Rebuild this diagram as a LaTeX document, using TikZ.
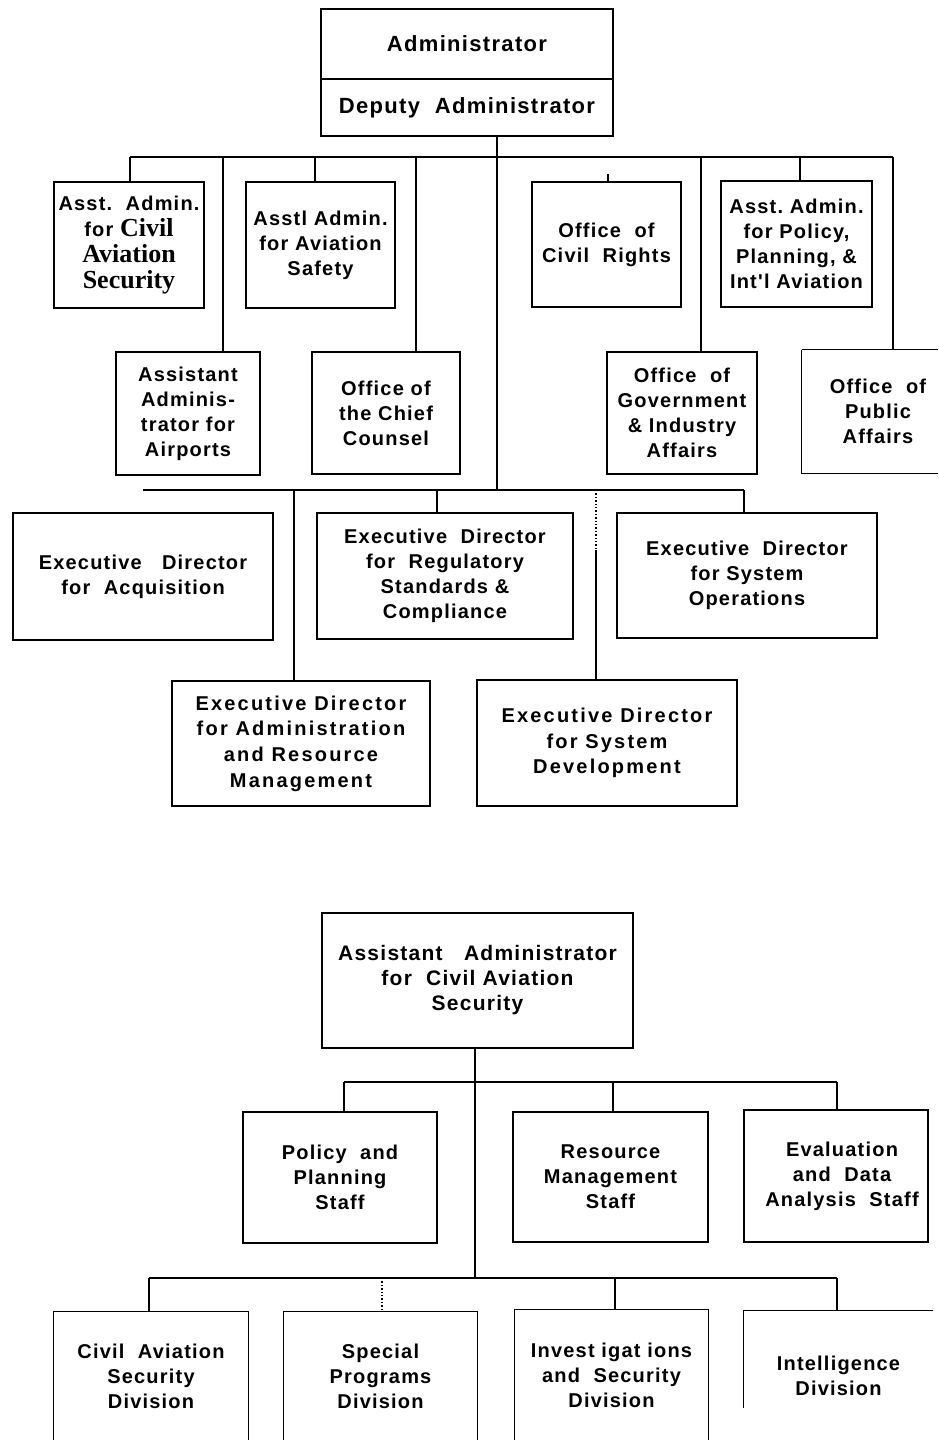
\documentclass[tikz,border=0pt]{standalone}
\usepackage{fontspec}
\setmainfont{Liberation Sans}
\newfontfamily\orgf[LetterSpace=6]{Liberation Sans}
\newfontfamily\orgw[LetterSpace=11]{Liberation Sans}
\newfontfamily\orgs{Liberation Serif}
\tikzset{
  orgline/.style={line width=0.7pt, black},
  box/.style={draw, line width=0.7pt, inner sep=0pt, align=center,
    font=\orgf\bfseries\fontsize{10}{12.5}\selectfont},
  openbox/.style={inner sep=0pt, align=center,
    font=\orgf\bfseries\fontsize{10}{12.5}\selectfont},
  widefont/.style={font=\orgw\bfseries\fontsize{10}{12.8}\selectfont},
  dotline/.style={line width=0.7pt, densely dotted}
}
\begin{document}
\begin{tikzpicture}[x=0.5pt, y=-0.5pt]
\fill[white] (0,0) rectangle (938,1440);
\useasboundingbox (0,0) rectangle (938,1440);

% ---------------- upper chart ----------------
\node[box, minimum width=146pt, minimum height=35pt,
  font=\orgf\bfseries\fontsize{11}{13}\selectfont] (adm) at (467,44) {Administrator};
\node[box, minimum width=146pt, minimum height=28.5pt,
  font=\orgf\bfseries\fontsize{11}{13}\selectfont] (dep) at (467,107.5) {Deputy\ \ Administrator};

\node[box, minimum width=75pt, minimum height=63pt] (cas) at (129,245)
  {Asst.\ \ Admin.\\[0.5pt]
   for {\orgs\fontsize{13}{13}\selectfont Civil}\\[0.5pt]
   {\orgs\fontsize{13}{13}\selectfont Aviation}\\[0.5pt]
   {\orgs\fontsize{13}{13}\selectfont Security}};
\node[box, minimum width=74.5pt, minimum height=63pt] (saf) at (320.5,245)
  {Asstl Admin.\\for Aviation\\Safety};
\node[box, minimum width=72pt, minimum height=61.5pt] (air) at (188,413.5)
  {Assistant\\Adminis-\\trator for\\Airports};
\node[box, minimum width=74pt, minimum height=61pt] (cc) at (386,413)
  {Office of\\the Chief\\Counsel};
\node[box, minimum width=74.5pt, minimum height=62.5pt] (cr) at (606.5,244.5)
  {Office\ \ of\\Civil\ \ Rights};
\node[box, minimum width=75.5pt, minimum height=63pt] (pol) at (796.5,244)
  {Asst.\ Admin.\\for Policy,\\Planning, \&\\Int'l Aviation};
\node[box, minimum width=75pt, minimum height=61pt] (gov) at (682,413)
  {Office\ \ of\\Government\\\& Industry\\Affairs};
\node[openbox, minimum width=76pt, minimum height=61.5pt] (pub) at (878,411.5)
  {Office\ \ of\\Public\\Affairs};
\draw[orgline] (pub.north west) -- ++(136,0);
\draw[orgline] (pub.north west) -- (pub.south west) -- ++(136,0);

\node[box, minimum width=130pt, minimum height=63.5pt] (acq) at (143,576.5)
  {Executive\ \ \ Director\\for\ \ Acquisition};
\node[box, minimum width=128pt, minimum height=63pt] (reg) at (445,576)
  {Executive\ \ Director\\for\ \ Regulatory\\Standards \&\\Compliance};
\node[box, minimum width=130pt, minimum height=62.5pt] (sop) at (747,575.5)
  {Executive\ \ Director\\for System\\Operations};
\node[box, widefont, minimum width=129pt, minimum height=62.5pt] (arm) at (301,743.5)
  {Executive Director\\for Administration\\and Resource\\Management};
\node[box, widefont, minimum width=130pt, minimum height=63pt] (sdv) at (607,743)
  {Executive Director\\for System\\Development};

% bus coordinates, upper chart
\coordinate (b1a) at (130,157);
\coordinate (b1b) at (223,157);
\coordinate (b1c) at (315,157);
\coordinate (b1d) at (416,157);
\coordinate (b1e) at (608,174);
\coordinate (b1f) at (701,157);
\coordinate (b1g) at (800,157);
\coordinate (b1h) at (893,157);
\coordinate (t1) at (497,490);
\coordinate (b2a) at (143,490);
\coordinate (b2b) at (294,490);
\coordinate (b2c) at (437,490);
\coordinate (b2d) at (596,490);
\coordinate (b2m) at (596,550);
\coordinate (b2e) at (744,490);

\draw[orgline] (dep.south -| t1) -- (t1);
\draw[orgline] (b1a) -- (b1h);
\draw[orgline] (b1a) -- (b1a |- cas.north);
\draw[orgline] (b1b) -- (b1b |- air.north);
\draw[orgline] (b1c) -- (b1c |- saf.north);
\draw[orgline] (b1d) -- (b1d |- cc.north);
\draw[orgline] (b1e) -- (b1e |- cr.north);
\draw[orgline] (b1f) -- (b1f |- gov.north);
\draw[orgline] (b1g) -- (b1g |- pol.north);
\draw[orgline] (b1h) -- (b1h |- pub.north);

\draw[orgline] (b2a) -- (b2e);
\draw[orgline] (b2b) -- (b2b |- arm.north);
\draw[orgline] (b2c) -- (b2c |- reg.north);
\draw[dotline] (b2d) -- (b2m);
\draw[orgline] (b2m) -- (b2m |- sdv.north);
\draw[orgline] (b2e) -- (b2e |- sop.north);

% ---------------- lower chart ----------------
\node[box, minimum width=155.5pt, minimum height=67.5pt,
  font=\orgf\bfseries\fontsize{10.5}{12.5}\selectfont] (aacs) at (477.5,980.5)
  {Assistant\ \ \ Administrator\\for\ \ Civil Aviation\\Security};
\node[box, minimum width=97pt, minimum height=65.5pt] (pps) at (340,1177.5)
  {Policy\ \ and\\Planning\\Staff};
\node[box, minimum width=97.5pt, minimum height=65pt] (rms) at (610.5,1177)
  {Resource\\Management\\Staff};
\node[box, minimum width=92pt, minimum height=66pt] (eda) at (836,1176)
  {\hspace*{6pt}Evaluation\\\hspace*{6pt}and\ \ Data\\\hspace*{6pt}Analysis\ \ Staff};

\node[openbox, minimum width=97pt, minimum height=64pt] (casd) at (151,1376)
  {Civil\ \ Aviation\\Security\\Division};
\node[openbox, minimum width=96.5pt, minimum height=64pt] (spd) at (380.5,1376)
  {Special\\Programs\\Division};
\node[openbox, minimum width=96.5pt, minimum height=65pt] (isd) at (611.5,1375)
  {Invest igat ions\\and\ \ Security\\Division};
\node[openbox, minimum width=94.5pt, minimum height=64.5pt] (intd) at (838.5,1375.5)
  {Intelligence\\Division};
\draw[orgline] (casd.south west) |- (casd.north east) -- (casd.south east);
\draw[orgline] (spd.south west) |- (spd.north east) -- (spd.south east);
\draw[orgline] (isd.south west) |- (isd.north east) -- (isd.south east);
\draw[orgline] (intd.north east) -- (intd.north west) -- ++(0,97);

\coordinate (t2) at (475,1278);
\coordinate (b3a) at (344,1082);
\coordinate (b3b) at (613,1082);
\coordinate (b3c) at (837,1082);
\coordinate (b4a) at (149,1278);
\coordinate (b4b) at (382,1278);
\coordinate (b4c) at (615,1278);
\coordinate (b4d) at (837,1278);

\draw[orgline] (aacs.south -| t2) -- (t2);
\draw[orgline] (b3a) -- (b3c);
\draw[orgline] (b3a) -- (b3a |- pps.north);
\draw[orgline] (b3b) -- (b3b |- rms.north);
\draw[orgline] (b3c) -- (b3c |- eda.north);
\draw[orgline] (b4a) -- (b4d);
\draw[orgline] (b4a) -- (b4a |- casd.north);
\draw[dotline] (b4b) -- (b4b |- spd.north);
\draw[orgline] (b4c) -- (b4c |- isd.north);
\draw[orgline] (b4d) -- (b4d |- intd.north);
\end{tikzpicture}
\end{document}
